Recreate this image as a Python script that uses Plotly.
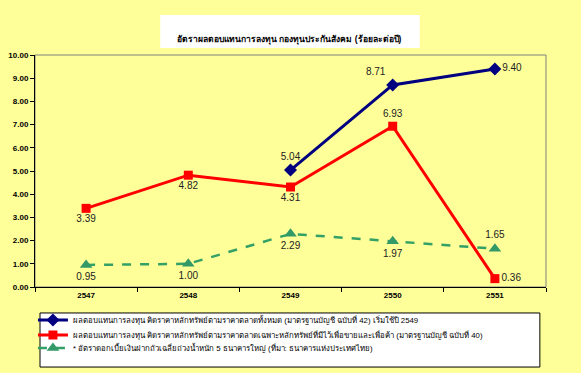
import plotly.graph_objects as go

years = ["2547", "2548", "2549", "2550", "2551"]
blue_vals = [None, None, 5.04, 8.71, 9.40]
red_vals = [3.39, 4.82, 4.31, 6.93, 0.36]
green_vals = [0.95, 1.00, 2.29, 1.97, 1.65]

blue_name = "ผลตอบแทนการลงทุน คิดราคาหลักทรัพย์ตามราคาตลาดทั้งหมด (มาตรฐานบัญชี ฉบับที่ 42) เริ่มใช้ปี 2549"
red_name = "ผลตอบแทนการลงทุน คิดราคาหลักทรัพย์ตามราคาตลาดเฉพาะหลักทรัพย์ที่มีไว้เพื่อขายและเพื่อค้า (มาตรฐานบัญชี ฉบับที่ 40)"
green_name = "* อัตราดอกเบี้ยเงินฝากถัวเฉลี่ยถ่วงน้ำหนัก 5 ธนาคารใหญ่ (ที่มา: ธนาคารแห่งประเทศไทย)"
title_text = "อัตราผลตอบแทนการลงทุน กองทุนประกันสังคม (ร้อยละต่อปี)"

FONT = "Liberation Sans, Arial, sans-serif"
label_font = dict(family=FONT, size=10, color="#222222")

fig = go.Figure()
fig.add_trace(go.Scatter(
    x=years, y=blue_vals, name=blue_name, mode="lines+markers+text",
    line=dict(color="#000080", width=3),
    marker=dict(symbol="diamond", size=10, color="#000080"),
    texttemplate="%{y:.2f}",
    textposition=["top center", "top center", "top center", "top left", "middle right"],
    textfont=label_font, connectgaps=False, legend="legend",
))
fig.add_trace(go.Scatter(
    x=years, y=red_vals, name=red_name, mode="lines+markers+text",
    line=dict(color="#FF0000", width=3),
    marker=dict(symbol="square", size=9, color="#FF0000"),
    texttemplate="%{y:.2f}",
    textposition=["bottom center", "bottom center", "bottom center", "top center", "middle right"],
    textfont=label_font, legend="legend2",
))
fig.add_trace(go.Scatter(
    x=years, y=green_vals, name=green_name, mode="lines+markers+text",
    line=dict(color="#33A066", width=2.5, dash="dash"),
    marker=dict(symbol="triangle-up", size=11, color="#339966"),
    texttemplate="%{y:.2f}",
    textposition=["bottom center", "bottom center", "bottom center", "bottom center", "top center"],
    textfont=label_font, legend="legend3",
))

fig.add_shape(type="rect", xref="paper", yref="paper",
              x0=0.0098, x1=0.988, y0=-0.345, y1=-0.112,
              fillcolor="white", line=dict(color="black", width=1), layer="below")
fig.add_shape(type="rect", xref="paper", yref="paper",
              x0=0.245, x1=0.753, y0=1.030, y1=1.172,
              fillcolor="white", line=dict(width=0), layer="below")
fig.add_shape(type="rect", xref="paper", yref="paper",
              x0=0, x1=1, y0=0, y1=1,
              fillcolor="rgba(0,0,0,0)", line=dict(color="#808080", width=1), layer="below")

fig.add_annotation(text="<b>" + title_text + "</b>", xref="paper", yref="paper",
                   x=0.499, y=1.101, showarrow=False,
                   font=dict(family=FONT, size=8.5, color="black"))

leg_common = dict(x=-0.004, xanchor="left", yanchor="middle",
                  bgcolor="rgba(0,0,0,0)", font=dict(family=FONT, size=7.8, color="black"),
                  tracegroupgap=0, itemwidth=30)

fig.update_layout(
    width=581, height=373,
    margin=dict(l=35, r=35, t=55, b=86, autoexpand=False),
    paper_bgcolor="#FFFF99", plot_bgcolor="#FFFF99",
    showlegend=True,
    legend=dict(y=-0.142, **leg_common),
    legend2=dict(y=-0.207, **leg_common),
    legend3=dict(y=-0.263, **leg_common),
    xaxis=dict(type="category", range=[-0.5, 4.5], showgrid=False,
               showline=True, linecolor="black", linewidth=1,
               ticks="outside", tickson="boundaries", ticklen=4, tickcolor="black",
               tickfont=dict(family=FONT, size=8, color="black"),
               tickprefix="<b>", ticksuffix="</b>", fixedrange=True),
    yaxis=dict(range=[0, 10], dtick=1, tickformat=".2f", showgrid=False,
               showline=True, linecolor="black", linewidth=1,
               ticks="outside", ticklen=4, tickcolor="black",
               tickprefix="<b>", ticksuffix="</b>",
               tickfont=dict(family=FONT, size=8, color="black"), zeroline=False),
)
fig.write_html("out.html", config={"displayModeBar": False},
               post_script="document.body.style.margin='0';document.body.style.background='#FFFF99';")
